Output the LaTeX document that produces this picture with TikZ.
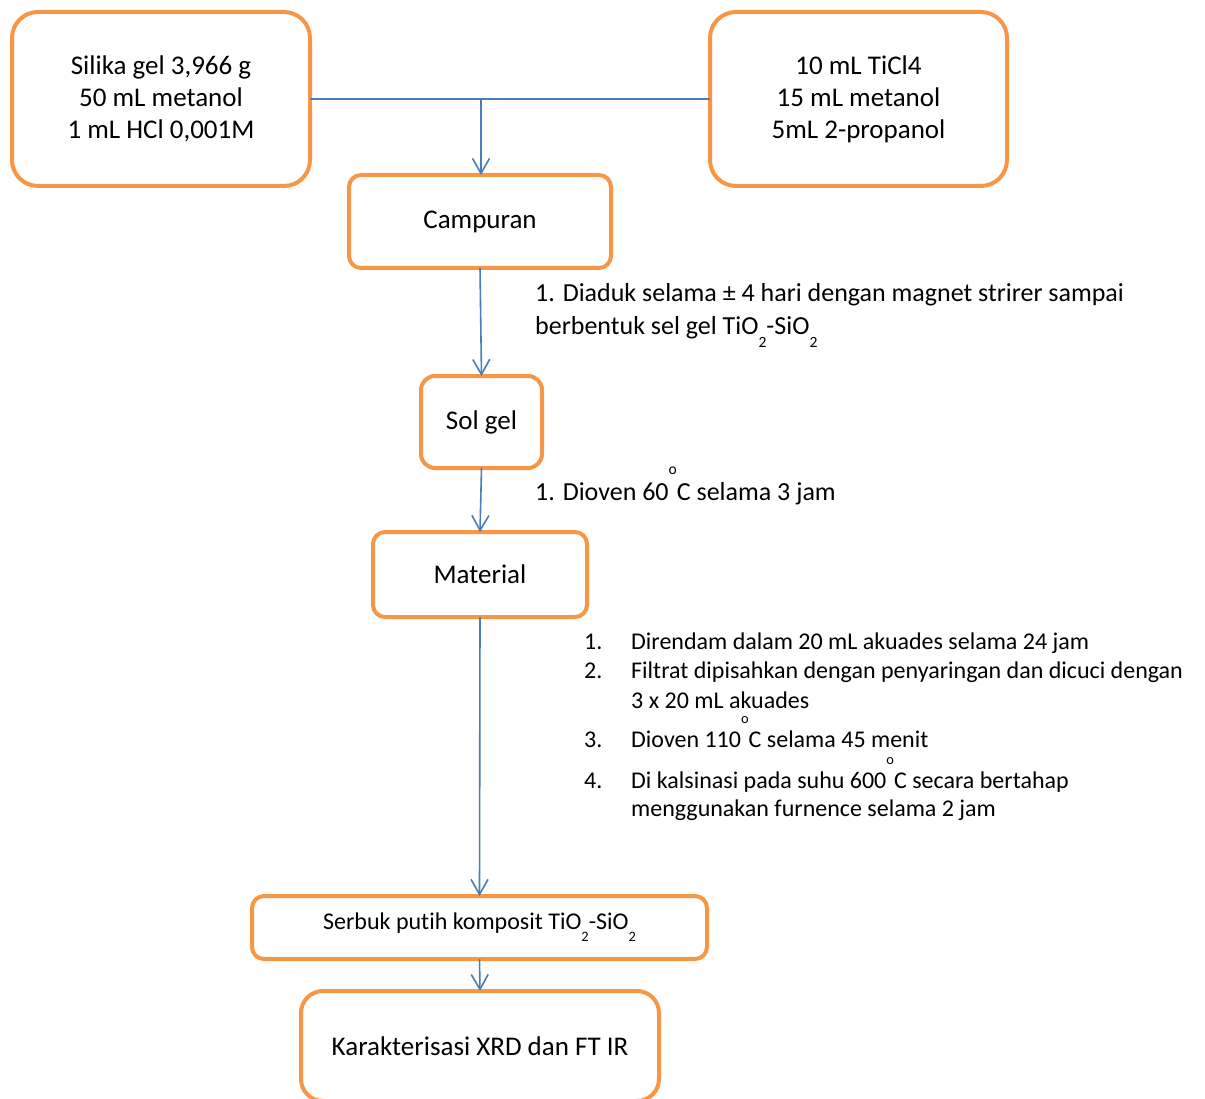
\documentclass[tikz,border=0pt]{standalone}
\usepackage{fontspec}
\usepackage{graphicx}
\setmainfont{Carlito}[Ligatures=NoCommon]
\usetikzlibrary{arrows.meta}
\definecolor{boxorange}{HTML}{F79646}
\definecolor{lineblue}{HTML}{4A7EBB}
\newcommand\subtwo{\raisebox{-0.5em}{\scalebox{0.6}{2}}}
\newcommand\supo{\raisebox{1em}{\scalebox{0.6}{o}}}
\begin{document}
\begin{tikzpicture}[x=1pt,y=-1pt,
  procbox/.style={draw=boxorange, line width=4pt, fill=white, inner sep=0pt, outer sep=0pt,
                  align=center, font=\fontsize{27}{32}\selectfont},
  conn/.style={draw=lineblue, line width=1.6pt},
  arr/.style={conn, -{Straight Barb[length=15pt,width=17pt,line width=1.6pt]}},
  lbl/.style={inner sep=0pt, anchor=base west, align=left, font=\fontsize{26}{33}\selectfont},
  lst/.style={inner sep=0pt, anchor=base west, font=\fontsize{24}{29}\selectfont}]
\useasboundingbox (0,0) rectangle (1205,1099);
\clip (0,0) rectangle (1205,1099);

% boxes
\node[procbox, rounded corners=26pt, minimum width=298pt, minimum height=174pt] (A) at (161,99)
  {Silika gel 3,966 g\\50 mL metanol\\1 mL HCl 0,001M};
\node[procbox, rounded corners=26pt, minimum width=297pt, minimum height=174pt] (B) at (858.5,99)
  {10 mL TiCl4\\15 mL metanol\\5mL 2-propanol};
\node[procbox, rounded corners=12pt, minimum width=262pt, minimum height=93pt] (camp) at (480,221.5)
  {Campuran};
\node[procbox, rounded corners=14pt, minimum width=121pt, minimum height=92pt] (sol) at (481.5,422)
  {Sol gel};
\node[procbox, rounded corners=12pt, minimum width=214pt, minimum height=85pt] (mat) at (480,574.5)
  {Material};
\node[procbox, rounded corners=12pt, minimum width=455pt, minimum height=63pt,
      font=\fontsize{24}{29}\selectfont] (serb) at (479.5,927.5)
  {Serbuk putih komposit TiO\subtwo-SiO\subtwo};
\node[procbox, rounded corners=22pt, minimum width=358pt, minimum height=110pt] (kar) at (480,1046)
  {Karakterisasi XRD dan FT IR};

% connectors
\coordinate (j) at (481,99);
\draw[conn] (A.east) -- (B.west);
\draw[arr] (j) -- (camp.north -| j);
\draw[arr] (camp.south) -- (sol.north);
\draw[arr] (sol.south) -- (mat.north);
\draw[arr] (mat.south) -- (serb.north);
\draw[arr] (serb.south) -- (kar.north);

% step labels (base = baseline of last line)
\node[lbl] (l1) at (535,334.5)
  {1. Diaduk selama \char"00B1{} 4 hari dengan magnet strirer sampai\\berbentuk sel gel TiO\subtwo-SiO\subtwo};
\node[lbl] (l2) at (535,500) {1. Dioven 60\supo C selama 3 jam};

% list
\node[lst] (n1) at (584,649) {1.};
\node[lst] (t1) at (631,649) {Direndam dalam 20 mL akuades selama 24 jam};
\node[lst] (n2) at (584,678) {2.};
\node[lst] (t2) at (631,678) {Filtrat dipisahkan dengan penyaringan dan dicuci dengan};
\node[lst] (t2b) at (631,708) {3 x 20 mL akuades};
\node[lst] (n3) at (584,747) {3.};
\node[lst] (t3) at (631,747) {Dioven 110\supo C selama 45 menit};
\node[lst] (n4) at (584,788) {4.};
\node[lst] (t4) at (631,788) {Di kalsinasi pada suhu 600\supo C secara bertahap};
\node[lst] (t4b) at (631,816) {menggunakan furnence selama 2 jam};
\end{tikzpicture}
\end{document}
